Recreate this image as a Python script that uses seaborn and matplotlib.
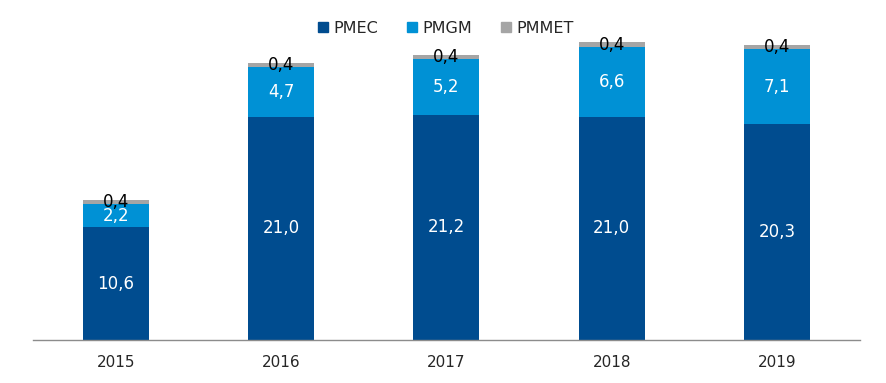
import numpy as np
import pandas as pd
import seaborn as sns
import matplotlib.pyplot as plt
from matplotlib.lines import Line2D

# Data
years = ['2015', '2016', '2017', '2018', '2019']
pmec = [10.6, 21.0, 21.2, 21.0, 20.3]
pmgm = [2.2, 4.7, 5.2, 6.6, 7.1]
pmmet = [0.4, 0.4, 0.4, 0.4, 0.4]

COLORS = {'PMEC': '#004C8F', 'PMGM': '#0091D5', 'PMMET': '#A5A5A5'}

sns.set_style('white')
plt.rcParams['font.family'] = ['DejaVu Sans']
plt.rcParams['font.sans-serif'] = ['DejaVu Sans']

df = pd.DataFrame({'year': years, 'PMEC': pmec, 'PMGM': pmgm, 'PMMET': pmmet})
df['lvl1'] = df['PMEC']
df['lvl2'] = df['PMEC'] + df['PMGM']
df['lvl3'] = df['lvl2'] + df['PMMET']

fig = plt.figure(figsize=(8.87, 3.83), dpi=100)
ax = fig.add_axes([0.0372, 0.1123, 0.932, 0.8877])

# stacked bars drawn as overlapping cumulative totals
for col, key in [('lvl3', 'PMMET'), ('lvl2', 'PMGM'), ('lvl1', 'PMEC')]:
    sns.barplot(data=df, x='year', y=col, color=COLORS[key], saturation=1, width=0.4,
                linewidth=0, edgecolor='none', ax=ax)

def fmt(v):
    return ('%.1f' % v).replace('.', ',')

for i in range(len(years)):
    ax.text(i, df['lvl1'][i] / 2, fmt(pmec[i]), ha='center', va='center', color='white', fontsize=12)
    ax.text(i, df['lvl1'][i] + pmgm[i] / 2, fmt(pmgm[i]), ha='center', va='center', color='white', fontsize=12)
    ax.text(i, df['lvl2'][i] + pmmet[i] / 2, fmt(pmmet[i]), ha='center', va='center', color='black', fontsize=12)

ax.set_xlim(-0.5, 4.5)
ax.set_ylim(0, 32)
ax.set_xlabel('')
ax.set_ylabel('')
ax.set_yticks([])
ax.tick_params(axis='x', length=0, labelsize=11, pad=11)
for s in ['top', 'right', 'left']:
    ax.spines[s].set_visible(False)
ax.spines['bottom'].set_color('#8C8C8C')
ax.spines['bottom'].set_linewidth(1)

handles = [Line2D([0], [0], marker='s', linestyle='', markersize=7,
                  markerfacecolor=COLORS[k], markeredgecolor=COLORS[k]) for k in ['PMEC', 'PMGM', 'PMMET']]
fig.legend(handles, ['PMEC', 'PMGM', 'PMMET'], loc='center', bbox_to_anchor=(0.5, 0.926),
           ncol=3, frameon=False, fontsize=11.5, handletextpad=0.05, handlelength=1.2, columnspacing=1.5)

fig.savefig('out.png', dpi=100)
